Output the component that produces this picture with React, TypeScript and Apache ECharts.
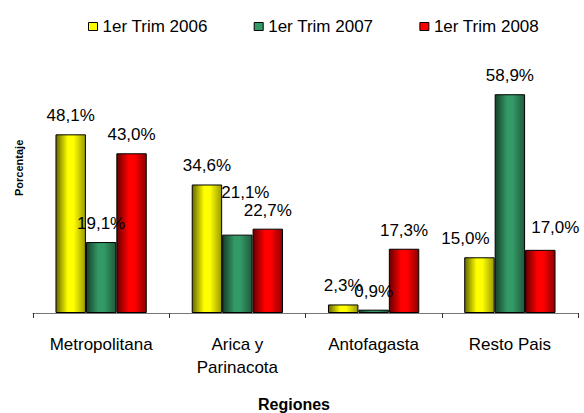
import React, { useEffect, useRef } from "react";
import * as echarts from "echarts";

const categories = ["Metropolitana", "Arica y\nParinacota", "Antofagasta", "Resto Pais"];
const seriesNames = ["1er Trim 2006", "1er Trim 2007", "1er Trim 2008"];
const trim2006 = [48.1, 34.6, 2.3, 15.0];
const trim2007 = [19.1, 21.1, 0.9, 58.9];
const trim2008 = [43.0, 22.7, 17.3, 17.0];

const FONT = "'Liberation Sans', Arial, sans-serif";

const palettes = [
  { base: "#ffff00", dark: "#666600", right: "#9a9a00" },
  { base: "#339966", dark: "#163f2a", right: "#1f5a3c" },
  { base: "#ff0000", dark: "#660000", right: "#8c0000" },
];

// label offset overrides [series-index] -> [dx, dy]
const labelOffsets: Record<string, [number, number]> = {
  "1-1": [8, -24],
  "0-3": [-14, 0],
  "2-3": [15, -4],
};

const fmt = (v: number) => v.toFixed(1).replace(".", ",") + "%";

export default function App() {
  const ref = useRef<HTMLDivElement>(null);
  useEffect(() => {
    if (!ref.current) return;
    const chart = echarts.init(ref.current, null, { renderer: "svg" });
    const all = [trim2006, trim2007, trim2008];
    const series = all.map((vals, si) => {
      const p = palettes[si];
      return {
        name: seriesNames[si],
        type: "bar",
        barGap: "0%",
        barCategoryGap: "33%",
        itemStyle: {
          borderColor: "#000",
          borderWidth: 1,
          color: new echarts.graphic.LinearGradient(0, 0, 1, 0, [
            { offset: 0, color: p.dark },
            { offset: 0.4, color: p.base },
            { offset: 0.6, color: p.base },
            { offset: 1, color: p.right },
          ]),
        },
        label: {
          show: true,
          position: "top",
          distance: 10,
          fontFamily: FONT,
          fontSize: 17,
          color: "#000",
          formatter: (d: any) => fmt(d.value),
        },
        data: vals.map((v, i) => {
          const off = labelOffsets[`${si}-${i}`];
          return off ? { value: v, label: { offset: off } } : { value: v };
        }),
      };
    });
    chart.setOption({
      animation: false,
      backgroundColor: "#fff",
      textStyle: { fontFamily: FONT },
      legend: {
        top: 13,
        left: 83,
        itemWidth: 9,
        itemHeight: 8,
        itemGap: 46,
        textStyle: { fontFamily: FONT, fontSize: 17, color: "#000" },
        data: seriesNames.map((n, i) => ({
          name: n,
          icon: "rect",
          itemStyle: { color: palettes[i].base, borderColor: "#000", borderWidth: 1 },
        })),
      },
      grid: { left: 33, right: 6, top: 53, bottom: 100 },
      xAxis: {
        type: "category",
        data: categories,
        axisLine: { lineStyle: { color: "#777", width: 1 } },
        axisTick: { show: true, length: 5, lineStyle: { color: "#333" } },
        axisLabel: {
          fontFamily: FONT,
          fontSize: 17,
          color: "#000",
          margin: 20,
          lineHeight: 23,
        },
      },
      yAxis: {
        type: "value",
        min: 0,
        max: 70,
        show: false,
        splitLine: { show: false },
      },
      graphic: [
        {
          type: "text",
          left: 258,
          top: 396,
          style: { text: "Regiones", font: `bold 16px ${FONT}`, fill: "#000" },
        },
        {
          type: "text",
          x: 13,
          y: 196,
          rotation: Math.PI / 2,
          style: { text: "Porcentaje", font: `bold 11px ${FONT}`, fill: "#000" },
        },
      ],
      series,
    });
    return () => chart.dispose();
  }, []);
  return (
    <div
      ref={ref}
      style={{ position: "fixed", left: 0, top: 0, width: 584, height: 413 }}
    />
  );
}
